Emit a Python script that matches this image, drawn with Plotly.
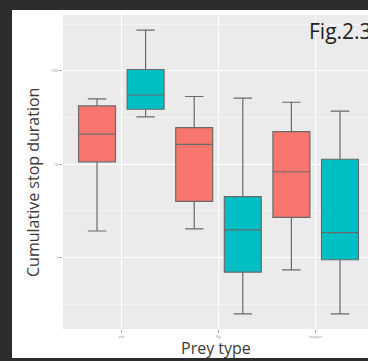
import plotly.graph_objects as go

prey = ["ant", "fly", "hopper"]

# red series (left box of each pair)
red_upper = [50, 53, 46]
red_q3 = [42, 24.6, 22.3]
red_median = [21, 16.3, 8.3]
red_q1 = [10.6, 4.0, 2.7]
red_lower = [1.93, 2.03, 0.74]

# teal series (right box of each pair)
teal_upper = [272, 51, 37]
teal_q3 = [103, 4.5, 11.3]
teal_median = [55, 1.98, 1.85]
teal_q1 = [38.7, 0.70, 0.95]
teal_lower = [32, 0.25, 0.25]

y_ticks = [1, 10, 100]
y_ticktext = ["1", "10", "100"]
y_minor = [0.316, 3.16, 31.6, 316]

W, H = 368, 361
L, R, T, B = 63, 0, 15, 32
pw, ph = W - L - R, H - T - B


def px(x):
    return (x - L) / pw


def py(y):
    return (H - B - y) / ph


fig = go.Figure()
fig.add_trace(go.Box(
    name="Series 1", x=prey, q1=red_q1, median=red_median, q3=red_q3,
    lowerfence=red_lower, upperfence=red_upper,
    fillcolor="#F8766D", line=dict(color="#6a6a6a", width=1.2),
    boxpoints=False, offsetgroup="a"))
fig.add_trace(go.Box(
    name="Series 2", x=prey, q1=teal_q1, median=teal_median, q3=teal_q3,
    lowerfence=teal_lower, upperfence=teal_upper,
    fillcolor="#00BFC4", line=dict(color="#6a6a6a", width=1.2),
    boxpoints=False, offsetgroup="b"))

dark = "#2c2c2c"

fig.update_layout(
    width=W, height=H,
    margin=dict(l=L, r=R, t=T, b=B, pad=0),
    paper_bgcolor=dark, plot_bgcolor="rgba(0,0,0,0)",
    boxmode="group", boxgap=0.0, boxgroupgap=0.24,
    showlegend=False,
    font=dict(family="Open Sans", color="#3a3a3a"),
    xaxis=dict(
        type="category", range=[-0.6, 2.6 - 6 / 97],
        showgrid=True, gridcolor="white", gridwidth=1.2,
        ticks="outside", ticklen=3, tickcolor="#aaaaaa",
        tickfont=dict(size=4, color="#8a8a8a"), zeroline=False,
        showline=False),
    yaxis=dict(
        type="log", range=[-0.763, 2.596],
        tickmode="array", tickvals=y_ticks, ticktext=y_ticktext,
        showgrid=True, gridcolor="white", gridwidth=1.2,
        ticks="outside", ticklen=3, tickcolor="#aaaaaa",
        tickfont=dict(size=4, color="#8a8a8a"), zeroline=False,
        showline=False,
        minor=dict(tickmode="array", tickvals=y_minor, showgrid=True,
                   gridcolor="#F5F5F5", gridwidth=0.6, ticks="")),
)

# white page of the photographed figure, then the grey ggplot panel
fig.add_shape(type="rect", xref="paper", yref="paper",
              x0=px(12), x1=1.2, y0=py(358), y1=py(10),
              fillcolor="white", line=dict(width=0), layer="below")
fig.add_shape(type="rect", xref="paper", yref="paper",
              x0=0, x1=1.2, y0=0, y1=1,
              fillcolor="#EBEBEB", line=dict(width=0), layer="below")

fig.add_annotation(text="Cumulative stop duration", xref="paper", yref="paper",
                   x=px(33), y=py(183), textangle=-90, showarrow=False,
                   xanchor="center", yanchor="middle",
                   font=dict(size=16, color="#3a3a3a", family="Open Sans"))
fig.add_annotation(text="Prey type", xref="paper", yref="paper",
                   x=px(216), y=py(347.5), showarrow=False,
                   xanchor="center", yanchor="middle",
                   font=dict(size=16, color="#3a3a3a", family="Open Sans"))
fig.add_annotation(text="Fig.2.3", xref="paper", yref="paper",
                   x=px(307), y=py(31), showarrow=False,
                   xanchor="left", yanchor="middle",
                   font=dict(size=21, color="#222222", family="Open Sans"))

fig.write_html(
    "out.html",
    config={"displayModeBar": False},
    post_script="document.body.style.margin='0';"
                "document.body.style.overflow='hidden';"
                "document.body.style.background='#2c2c2c';",
)
